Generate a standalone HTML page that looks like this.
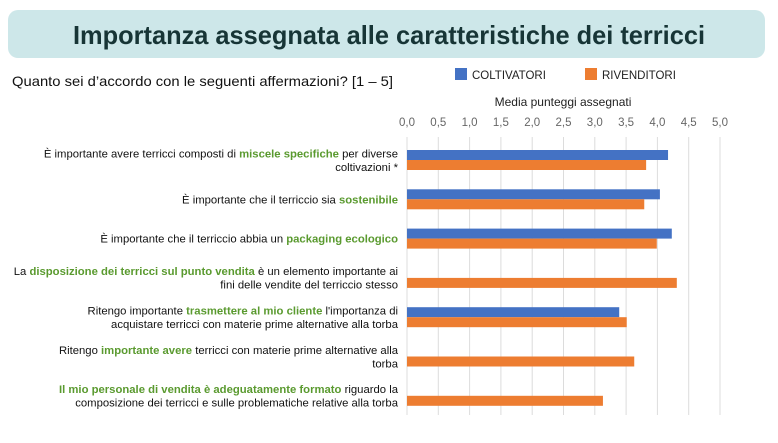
<!DOCTYPE html>
<html><head><meta charset="utf-8"><style>
body{margin:0;width:778px;height:438px;background:#fff;overflow:hidden;font-family:"Liberation Sans",sans-serif}
</style></head><body>
<svg id="chart" width="778" height="438" xmlns="http://www.w3.org/2000/svg" font-family="Liberation Sans, sans-serif">
<rect x="8" y="10" width="757" height="48" rx="10" fill="#cde7e9"/>
<text x="389" y="44" text-anchor="middle" font-size="26" font-weight="bold" fill="#173536" textLength="632" lengthAdjust="spacingAndGlyphs">Importanza assegnata alle caratteristiche dei terricci</text>
<text x="12" y="86" font-size="14" fill="#111" textLength="381" lengthAdjust="spacingAndGlyphs">Quanto sei d’accordo con le seguenti affermazioni? [1 – 5]</text>
<rect x="455" y="68" width="12" height="12" fill="#4472c4"/>
<text x="472" y="79" font-size="11.5" fill="#222">COLTIVATORI</text>
<rect x="585" y="68" width="12" height="12" fill="#ed7d31"/>
<text x="602" y="79" font-size="11.5" fill="#222">RIVENDITORI</text>
<text x="563" y="106" text-anchor="middle" font-size="12" fill="#222">Media punteggi assegnati</text>
<g id="grid"></g><g id="ticks"></g><g id="labels"></g><g id="bars"></g>
</svg>
<script>
const categories=[
 [["È importante avere terricci composti di ",0],["miscele specifiche",1],[" per diverse",0],["|coltivazioni *",0]],
 [["È importante che il terriccio sia ",0],["sostenibile",1]],
 [["È importante che il terriccio abbia un ",0],["packaging ecologico",1]],
 [["La ",0],["disposizione dei terricci sul punto vendita",1],[" è un elemento importante ai",0],["|fini delle vendite del terriccio stesso",0]],
 [["Ritengo importante ",0],["trasmettere al mio cliente",1],[" l'importanza di",0],["|acquistare terricci con materie prime alternative alla torba",0]],
 [["Ritengo ",0],["importante avere",1],[" terricci con materie prime alternative alla",0],["|torba",0]],
 [["Il mio personale di vendita è adeguatamente formato",1],[" riguardo la",0],["|composizione dei terricci e sulle problematiche relative alla torba",0]]
];
const coltivatori=[4.17,4.04,4.23,null,3.39,null,null];
const rivenditori=[3.82,3.79,3.99,4.31,3.51,3.63,3.13];
const tickValues=[0,0.5,1,1.5,2,2.5,3,3.5,4,4.5,5];
const tickLabels=["0,0","0,5","1,0","1,5","2,0","2,5","3,0","3,5","4,0","4,5","5,0"];
const NS="http://www.w3.org/2000/svg";
const x0=407,x1=720,yTop=137,yBot=415,c0=160,step=39.3,bh=10;
const xs=v=>x0+(x1-x0)*v/5;
const ys=i=>c0+i*step;
function mk(t,a,parent){const e=document.createElementNS(NS,t);for(const k in a)e.setAttribute(k,a[k]);parent.appendChild(e);return e;}
const grid=document.getElementById('grid'),ticks=document.getElementById('ticks'),labels=document.getElementById('labels'),bars=document.getElementById('bars');
tickValues.forEach((v,i)=>{
 const l=mk('line',{x1:xs(v),x2:xs(v),y1:yTop,y2:yBot,stroke:'#dcdcdc','stroke-width':1},grid);
 
 
 const t=mk('text',{x:xs(v),y:126,'text-anchor':'middle','font-size':11.5,fill:'#666'},ticks);
 
 
 t.textContent=tickLabels[i];
});
categories.forEach((parts,i)=>{
 const lines=[[]];
 parts.forEach(p=>{let s=p[0];if(s.startsWith('|')){lines.push([]);s=s.slice(1);}lines[lines.length-1].push([s,p[1]]);});
 const n=lines.length,lh=13.5;
 lines.forEach((ln,j)=>{
  const t=mk('text',{x:398,y:ys(i)+4+(j-(n-1)/2)*lh,'text-anchor':'end','font-size':11.3,fill:'#111'},labels);
  
  
  ln.forEach(([s,g])=>{const sp=mk('tspan',g?{fill:'#5a9a2f','font-weight':'bold'}:{},t);sp.textContent=s;});
 });
 if(coltivatori[i]!=null){
  const r=mk('rect',{x:x0,y:ys(i)-bh,width:xs(coltivatori[i])-x0,height:bh,fill:'#4472c4'},bars);
  
  
 }
 if(rivenditori[i]!=null){
  const r=mk('rect',{x:x0,y:ys(i),width:xs(rivenditori[i])-x0,height:bh,fill:'#ed7d31'},bars);
  
  
 }
});
</script>
</body></html>
